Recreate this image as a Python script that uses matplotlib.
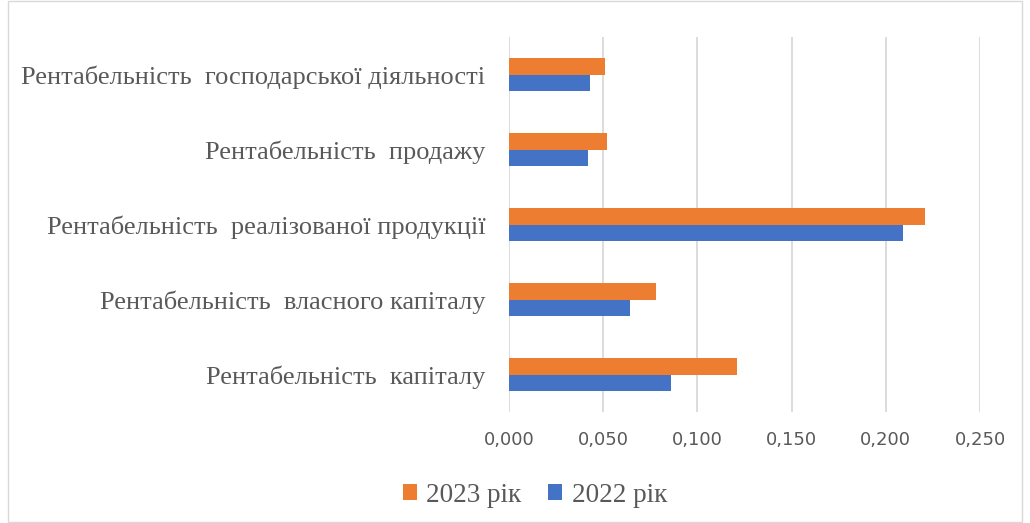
import numpy as np
import matplotlib.pyplot as plt
from matplotlib.ticker import FuncFormatter

categories = ['Рентабельність  капіталу',
              'Рентабельність  власного капіталу',
              'Рентабельність  реалізованої продукції',
              'Рентабельність  продажу',
              'Рентабельність  господарської діяльності']
val_2022 = [0.086, 0.064, 0.209, 0.042, 0.043]
val_2023 = [0.121, 0.078, 0.221, 0.052, 0.051]
ticks = [0.0, 0.05, 0.10, 0.15, 0.20, 0.25]

fig = plt.figure(figsize=(10.30, 5.23), dpi=100)
ax = fig.add_axes([509 / 1030, 1 - 412 / 523, (980 - 509) / 1030, (412 - 37) / 523])

y = np.arange(len(categories))
h = 0.225
ax.barh(y - h / 2, val_2022, height=h, color='#4472C4', label='2022 рік', zorder=3)
ax.barh(y + h / 2, val_2023, height=h, color='#ED7D31', label='2023 рік', zorder=3)

ax.set_xlim(0, 0.25)
ax.set_ylim(-0.5, len(categories) - 0.5)
ax.set_xticks(ticks)
ax.xaxis.set_major_formatter(FuncFormatter(lambda v, p: f'{v:.3f}'.replace('.', ',')))
ax.grid(axis='x', color='#D9D9D9', linewidth=1.3, zorder=0)
for s in ax.spines.values():
    s.set_visible(False)
ax.tick_params(length=0)
ax.tick_params(axis='x', pad=14, labelsize=13, labelcolor='#595959')
ax.set_yticks(y)
ax.set_yticklabels(categories, family='Liberation Serif', fontsize=19, color='#595959')
ax.tick_params(axis='y', pad=17)
for lab in ax.get_xticklabels():
    lab.set_family('DejaVu Sans')

handles, labels = ax.get_legend_handles_labels()
fig.legend(handles[::-1], labels[::-1], loc='center', bbox_to_anchor=(535 / 1030, 1 - 495 / 523),
           ncol=2, frameon=False, prop={'family': 'Liberation Serif', 'size': 19.5},
           labelcolor='#595959', handlelength=0.5, handleheight=0.5, handletextpad=0.35,
           columnspacing=1.0)

border = plt.Rectangle((8 / 1030, 0.002), 1014 / 1030, 0.996, transform=fig.transFigure,
                       fill=False, edgecolor='#D9D9D9', linewidth=1)
fig.patches.append(border)

fig.savefig('out.png', dpi=100)
